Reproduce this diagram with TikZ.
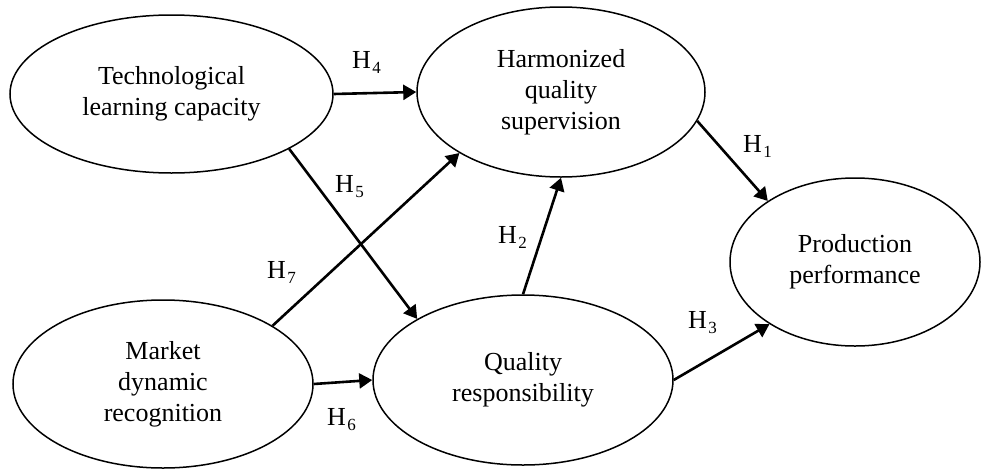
\documentclass[tikz,border=0pt]{standalone}
\usepackage{fontspec}
\setmainfont{Liberation Serif}
\usetikzlibrary{arrows.meta,shapes.geometric,positioning}
\newcommand{\Hsub}[1]{H\kern1.5pt\raisebox{-5pt}{\fontsize{17}{17}\selectfont #1}}

\begin{document}
\begin{tikzpicture}[x=1pt, y=-1pt,
  construct/.style={draw, ellipse, line width=1.5pt, inner sep=0pt, align=center,
    font=\fontsize{26}{31}\selectfont},
  link/.style={-{Triangle[length=13pt,width=15pt]}, line width=2.6pt},
  hlabel/.style={anchor=base west, inner sep=0pt, font=\fontsize{26}{31}\selectfont}]
\useasboundingbox (0,0) rectangle (982,469);
% constructs
\node[construct, minimum width=323pt, minimum height=158pt] (tech) at (171.5,94) {Technological\\learning capacity};
\node[construct, minimum width=288pt, minimum height=170pt] (harm) at (561,92) {Harmonized\\quality\\supervision};
\node[construct, minimum width=250pt, minimum height=168pt] (prod) at (855,262) {Production\\performance};
\node[construct, minimum width=300pt, minimum height=168pt] (market) at (163,384) {Market\\dynamic\\recognition};
\node[construct, minimum width=300pt, minimum height=170pt] (qual) at (523,380) {Quality\\responsibility};
% hypotheses
\draw[link] (tech.east) -- (harm.west);
\draw[link] (tech.-25.3) -- (qual.150.5);
\draw[link] (market.28.9) -- (harm.-149.4);
\draw[link] (market.east) -- (qual.west);
\draw[link] (qual.north) -- (harm.south);
\draw[link] (harm.-12.2) -- (prod.145.1);
\draw[link] (qual.east) -- (prod.-144.3);
% labels
\node[hlabel] (h1) at (743,152) {\Hsub{1}};
\node[hlabel] (h2) at (498,243) {\Hsub{2}};
\node[hlabel] (h3) at (688,328) {\Hsub{3}};
\node[hlabel] (h4) at (352,68) {\Hsub{4}};
\node[hlabel] (h5) at (335,192) {\Hsub{5}};
\node[hlabel] (h6) at (327,425) {\Hsub{6}};
\node[hlabel] (h7) at (267,278) {\Hsub{7}};
\end{tikzpicture}
\end{document}
